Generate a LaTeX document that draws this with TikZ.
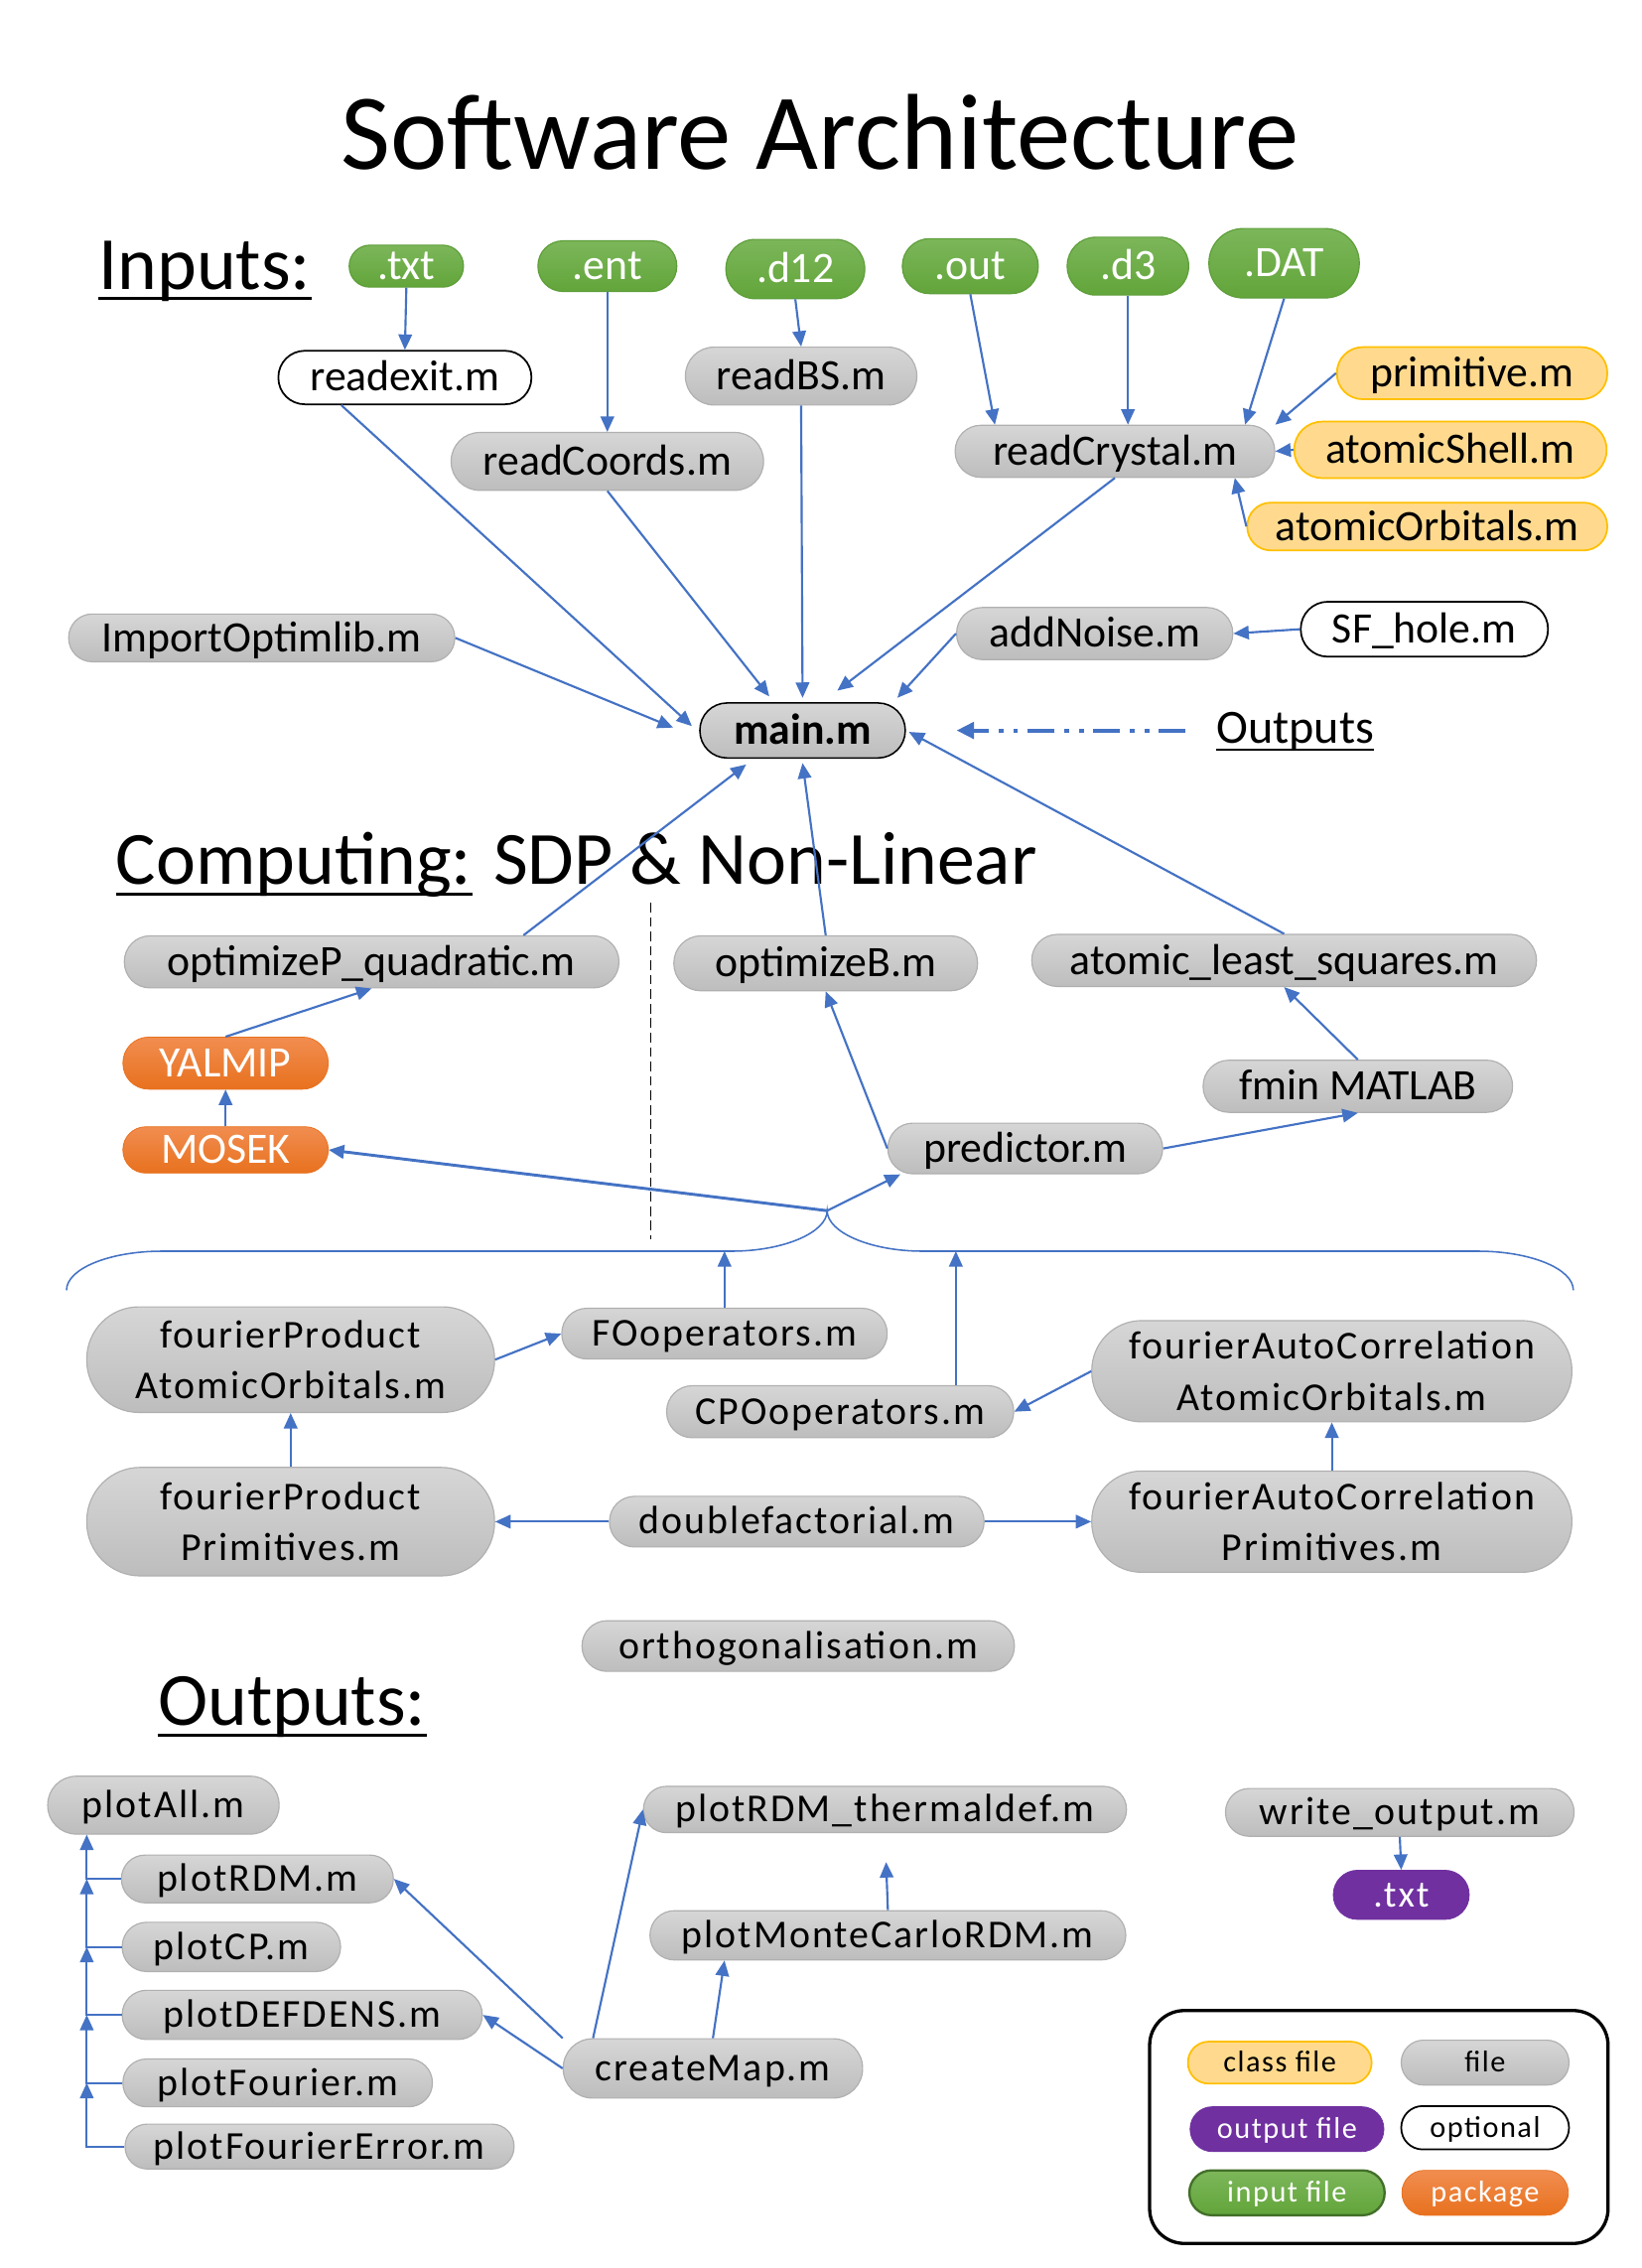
\documentclass[tikz,border=0pt]{standalone}
\usepackage{fontspec}
\setmainfont{Carlito}
\newfontfamily\widefont[LetterSpace=5]{Carlito}
\usetikzlibrary{arrows.meta,calc}
\definecolor{ablue}{HTML}{4472C4}
\definecolor{gtop}{HTML}{D6D6D6}
\definecolor{gbot}{HTML}{BDBDBD}
\definecolor{gline}{HTML}{B0B0B0}
\definecolor{grtop}{HTML}{7CB65A}
\definecolor{grbot}{HTML}{62A53A}
\definecolor{grline}{HTML}{5E9E3A}
\definecolor{ortop}{HTML}{F18D50}
\definecolor{orbot}{HTML}{E8711E}
\definecolor{yfill}{HTML}{FFDA8E}
\definecolor{yline}{HTML}{FFC000}
\definecolor{purp}{HTML}{7030A0}
\tikzset{
  pill/.style 2 args={rectangle, rounded corners=#2*0.37pt, minimum width=#1*0.75pt, minimum height=#2*0.75pt, inner sep=0pt},
  topf/.style={font=\fontsize{22.5}{27}\selectfont, text height=14.2pt, text depth=0pt},
  lowf/.style={font=\widefont\fontsize{20.5}{26.6}\selectfont, text height=12.9pt, text depth=0pt},
  lowf2/.style={font=\widefont\fontsize{20.5}{26.6}\selectfont, align=center},
  legf/.style={font=\widefont\fontsize{15.6}{18}\selectfont, text height=9.8pt, text depth=0pt},
  grayn/.style={top color=gtop, bottom color=gbot, draw=gline, line width=0.6pt},
  greenn/.style={top color=grtop, bottom color=grbot, draw=grline, line width=0.6pt, text=white},
  orangen/.style={top color=ortop, bottom color=orbot, draw=orbot, line width=0.4pt, text=white},
  yellown/.style={fill=yfill, draw=yline, line width=0.9pt},
  purpn/.style={fill=purp, draw=purp, text=white},
  optn/.style={fill=white, draw=black, line width=0.9pt},
  arr/.style={draw=ablue, line width=1.1pt, -{Triangle[length=8pt,width=7pt]}},
  heading/.style={anchor=base west, inner sep=0pt, font=\fontsize{39}{44}\selectfont}
}
\begin{document}
\begin{tikzpicture}[x=0.75pt, y=-0.75pt]
\useasboundingbox (0,0) rectangle (1135,1568);
\fill[white] (0,0) rectangle (1135,1568);

% Title and headings
\node[anchor=base, inner sep=0pt, font=\fontsize{56}{60}\selectfont] (title) at (567,117) {Software Architecture};
\node[heading] (inH) at (68,200) {Inputs:};
\draw[line width=1.5pt] ($(inH.base west)+(0,6.5)$) -- ($(inH.base east)+(0,6.5)$);
\node[heading] (compH) at (80,611) {Computing:};
\draw[line width=1.5pt] ($(compH.base west)+(0,7)$) -- ($(compH.base east)+(0,7)$);
\node[heading] (sdp) at (341,611) {SDP \& Non-Linear};
\node[heading] (outH) at (109,1193) {Outputs:};
\draw[line width=1.5pt] ($(outH.base west)+(0,6.5)$) -- ($(outH.base east)+(0,6.5)$);
\node[anchor=base west, inner sep=0pt, font=\fontsize{24.75}{28}\selectfont] (outLink) at (841,514) {Outputs};
\draw[line width=1pt] ($(outLink.base west)+(0,4.5)$) -- ($(outLink.base east)+(0,4.5)$);

% Input files
\node[pill={79}{29}, greenn, topf] (txt) at (281,184) {.txt};
\node[pill={96}{35}, greenn, topf] (ent) at (420,184) {.ent};
\node[pill={96}{41}, greenn, topf] (d12) at (550,186) {.d12};
\node[pill={94}{38}, greenn, topf] (out) at (671,184) {.out};
\node[pill={84}{40}, greenn, topf] (d3) at (780,184) {.d3};
\node[pill={104}{48}, greenn, topf] (DAT) at (888,182) {.DAT};

% Readers
\node[pill={175}{37}, optn, topf] (readexit) at (280,261) {readexit.m};
\node[pill={216}{40}, grayn, topf] (readCoords) at (420,319) {readCoords.m};
\node[pill={160}{40}, grayn, topf] (readBS) at (554,260) {readBS.m};
\node[pill={221}{36}, grayn, topf] (readCrystal) at (771,312) {readCrystal.m};
\node[pill={187}{36}, yellown, topf] (primitive) at (1018,258) {primitive.m};
\node[pill={216}{39}, yellown, topf] (atomicShell) at (1003,311) {atomicShell.m};
\node[pill={249}{33}, yellown, topf] (atomicOrbitals) at (987,364) {atomicOrbitals.m};
\node[pill={267}{33}, grayn, topf] (ImportOptimlib) at (181,441) {ImportOptimlib.m};
\node[pill={191}{36}, grayn, topf] (addNoise) at (757,438) {addNoise.m};
\node[pill={171}{38}, optn, topf] (SFhole) at (985,435) {SF\_hole.m};
\node[pill={142}{38}, grayn, draw=black, line width=0.8pt, topf, font=\bfseries\fontsize{22.5}{27}\selectfont] (main) at (555,505) {main.m};

% Computing
\node[pill={342}{36}, grayn, topf] (optimizeP) at (257,665) {optimizeP\_quadratic.m};
\node[pill={210}{38}, grayn, topf] (optimizeB) at (571,666) {optimizeB.m};
\node[pill={349}{36}, grayn, topf] (atomicLS) at (888,664) {atomic\_least\_squares.m};
\node[pill={142}{36}, orangen, topf] (YALMIP) at (156,735) {YALMIP};
\node[pill={142}{32}, orangen, topf] (MOSEK) at (156,795) {MOSEK};
\node[pill={190}{35}, grayn, topf] (predictor) at (709,794) {predictor.m};
\node[pill={214}{36}, grayn, topf] (fmin) at (939,751) {fmin MATLAB};

% Fourier part
\node[pill={282}{73}, grayn, lowf2] (fpAO) at (201,940) {fourierProduct\\AtomicOrbitals.m};
\node[pill={282}{75}, grayn, lowf2] (fpP) at (201,1052) {fourierProduct\\Primitives.m};
\node[pill={225}{35}, grayn, lowf] (FO) at (501,922) {FOoperators.m};
\node[pill={240}{36}, grayn, lowf] (CPO) at (581,976) {CPOoperators.m};
\node[pill={332}{70}, grayn, lowf2] (facAO) at (921,948) {fourierAutoCorrelation\\AtomicOrbitals.m};
\node[pill={332}{70}, grayn, lowf2] (facP) at (921,1052) {fourierAutoCorrelation\\Primitives.m};
\node[pill={259}{35}, grayn, lowf] (dfact) at (551,1052) {doublefactorial.m};
\node[pill={299}{35}, grayn, lowf] (ortho) at (552,1138) {orthogonalisation.m};

% Outputs
\node[pill={160}{40}, grayn, lowf] (pAll) at (113,1248) {plotAll.m};
\node[pill={188}{33}, grayn, lowf] (pRDM) at (178,1299) {plotRDM.m};
\node[pill={151}{34}, grayn, lowf] (pCP) at (160,1346) {plotCP.m};
\node[pill={249}{34}, grayn, lowf] (pDEF) at (209,1393) {plotDEFDENS.m};
\node[pill={214}{33}, grayn, lowf] (pF) at (192,1440) {plotFourier.m};
\node[pill={269}{31}, grayn, lowf] (pFE) at (221,1484) {plotFourierError.m};
\node[pill={207}{41}, grayn, lowf] (createMap) at (493,1430) {createMap.m};
\node[pill={334}{32}, grayn, lowf] (therm) at (612,1251) {plotRDM\_thermaldef.m};
\node[pill={329}{34}, grayn, lowf] (monte) at (614,1338) {plotMonteCarloRDM.m};
\node[pill={241}{33}, grayn, lowf] (writeOut) at (968,1253) {write\_output.m};
\node[pill={94}{34}, purpn, lowf, font=\widefont\fontsize{19.5}{22}\selectfont, text height=12.3pt] (txtOut) at (969,1310) {.txt};

% Legend
\draw[line width=1.7pt, rounded corners=18pt] (795,1390) rectangle (1112,1551);
\node[pill={127}{29}, yellown, legf] (lgClass) at (885,1426) {class file};
\node[pill={116}{31}, grayn, legf] (lgFile) at (1027,1426) {file};
\node[pill={134}{31}, purpn, legf] (lgOut) at (890,1472) {output file};
\node[pill={116}{30}, optn, legf] (lgOpt) at (1027,1471) {optional};
\node[pill={135}{31}, greenn, draw=black!30!grline, line width=1.2pt, legf] (lgIn) at (890,1516) {input file};
\node[pill={115}{31}, orangen, legf] (lgPkg) at (1027,1516) {package};

% Connectors: inputs
\draw[arr] (txt.south) -- (readexit.north);
\draw[arr] (ent.south) -- (readCoords.north);
\draw[arr] (d12.south) -- (readBS.north);
\draw[arr] (out.south) -- ($(readCrystal.north)+(-83,0)$);
\draw[arr] (d3.south) -- (d3.south |- readCrystal.north);
\draw[arr] (DAT.south) -- ($(readCrystal.north)+(90,0)$);
\draw[arr] (primitive.west) -- (readCrystal.north east);
\draw[arr] (atomicShell.west) -- (readCrystal.east);
\draw[arr] (atomicOrbitals.west) -- ($(readCrystal.south east)+(-28,0)$);
\draw[arr] ($(readexit.south)+(-44,0)$) -- ($(main.west)+(-5,-3)$);
\draw[arr] (readCoords.south) -- ($(main.north)+(-23,-4)$);
\draw[arr] (readBS.south) -- ($(main.north)+(0,-3)$);
\draw[arr] (readCrystal.south) -- ($(main.north)+(24,-8)$);
\draw[arr] (addNoise.west) -- ($(main.north east)+(-6,-3)$);
\draw[arr] (SFhole.west) -- (addNoise.east);
\draw[arr] (ImportOptimlib.east) -- ($(main.west)+(-18,-2)$);
\draw[ablue, line width=2pt, dash pattern=on 14pt off 5pt on 2.5pt off 5pt on 2.5pt off 5pt, -{Triangle[length=9pt,width=8.5pt]}]
  ($(outLink.west |- main.east)+(-21,0)$) -- ($(main.east)+(35,0)$);

% Connectors: computing
\draw[arr] ($(optimizeP.north)+(105,0)$) -- ($(main.south)+(-39,4)$);
\draw[arr] (optimizeB.north) -- ($(main.south)+(0,3)$);
\draw[arr] (atomicLS.north) -- ($(main.east)+(2,1)$);
\draw[arr] (YALMIP.north) -- (optimizeP.south);
\draw[arr] (MOSEK.north) -- (YALMIP.south);
\draw[arr] (fmin.north) -- (atomicLS.south);
\draw[arr] (predictor.east) -- (fmin.south);
\draw[arr] (predictor.west) -- (optimizeB.south);
\draw[black, line width=0.8pt, dash pattern=on 5pt off 2.5pt] (450,624) -- (450,857);

% Brace
\coordinate (tip) at (572,837);
\coordinate (bFO) at (501,865);
\coordinate (bCPO) at (661,865);
\draw[ablue, line width=0.8pt] (46,892) .. controls (46,877) and (76,865) .. (112,865) -- (506,865)
  .. controls (542,865) and (572,852) .. (tip) .. controls (572,852) and (602,865) .. (638,865)
  -- (1022,865) .. controls (1058,865) and (1088,877) .. (1088,892);
\draw[arr] (tip) -- ($(predictor.south west)+(9,0)$);
\draw[arr, line width=1.5pt] (tip) -- (MOSEK.east);
\draw[arr] (FO.north) -- (bFO);
\draw[arr] ($(CPO.north)+(80,0)$) -- (bCPO);
\draw[arr] (fpAO.east) -- (FO.west);
\draw[arr] (facAO.west) -- (CPO.east);
\draw[arr] (fpP.north) -- (fpAO.south);
\draw[arr] (facP.north) -- (facAO.south);
\draw[arr] (dfact.west) -- (fpP.east);
\draw[arr] (dfact.east) -- (facP.west);

% Connectors: outputs
\coordinate (trunk) at (60,1248);
\draw[arr] (pRDM.west) -| (trunk |- pAll.south);
\draw[arr] (pCP.west) -| (trunk |- pRDM.west);
\draw[arr] (pDEF.west) -| (trunk |- pCP.west);
\draw[arr] (pF.west) -| (trunk |- pDEF.west);
\draw[arr] (pFE.west) -| (trunk |- pF.west);
\draw[arr] (createMap.north west) -- (pRDM.east);
\draw[arr] (createMap.west) -- (pDEF.east);
\draw[arr] ($(createMap.north west)+(21,0)$) -- (therm.west);
\draw[arr] (createMap.north) -- ($(monte.south)+(-113,0)$);
\draw[arr, shorten >=15pt] (monte.north) -- (therm.south);
\draw[arr] (writeOut.south) -- (txtOut.north);
\end{tikzpicture}
\end{document}
